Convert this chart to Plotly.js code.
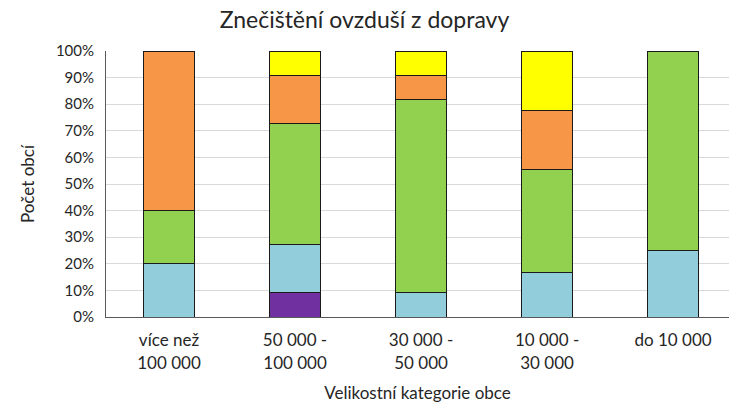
<!DOCTYPE html>
<html>
<head>
<meta charset="utf-8">
<script src="https://cdn.plot.ly/plotly-3.0.1.min.js"></script>
<style>
  html, body { margin: 0; padding: 0; background: white; }
  #chart { width: 729px; height: 407px; }
</style>
</head>
<body>
<div id="chart"></div>
<script>
// Kategorie obcí podle velikosti
const kategorie = ['více než<br>100 000', '50 000 -<br>100 000', '30 000 -<br>50 000', '10 000 -<br>30 000', 'do 10 000'];

// Podíly obcí (%) v jednotlivých úrovních
const fialova = [null, 9.1, null, null, null];
const modra = [20, 18.2, 9.1, 16.7, 25];
const zelena = [20, 45.4, 72.7, 38.9, 75];
const oranzova = [60, 18.2, 9.1, 22.2, null];
const zluta = [null, 9.1, 9.1, 22.2, null];

const serie = [
    { name: 'úroveň 1', y: fialova, color: '#7030A0' },
    { name: 'úroveň 2', y: modra, color: '#92CDDC' },
    { name: 'úroveň 3', y: zelena, color: '#92D050' },
    { name: 'úroveň 4', y: oranzova, color: '#F79646' },
    { name: 'úroveň 5', y: zluta, color: '#FFFF00' }
];

const data = serie.map(s => ({
    type: 'bar',
    x: kategorie,
    y: s.y,
    name: s.name,
    width: 0.4,
    marker: { color: s.color, line: { color: '#1a1a1a', width: 1 } },
    hoverinfo: 'none'
}));

const font = 'Lato, "Open Sans", sans-serif';

const layout = {
    width: 729,
    height: 407,
    barmode: 'stack',
    showlegend: false,
    paper_bgcolor: 'white',
    plot_bgcolor: 'white',
    margin: { l: 106, r: 0, t: 51, b: 90 },
    font: { family: font, color: '#404040' },
    title: {
        text: 'Znečištění ovzduší z dopravy',
        font: { family: font, size: 23, color: '#262626' },
        x: 0.5, xanchor: 'center',
        y: 0.95, yanchor: 'middle'
    },
    xaxis: {
        type: 'category',
        range: [-0.5, 4.444],
        showline: true,
        linecolor: '#595959',
        linewidth: 1,
        ticks: '',
        ticklabelstandoff: 8,
        tickfont: { family: font, size: 17, color: '#262626' },
        title: { text: 'Velikostní kategorie obce', font: { family: font, size: 17, color: '#262626' }, standoff: 15 }
    },
    yaxis: {
        range: [0, 100],
        dtick: 10,
        ticksuffix: '%',
        showline: true,
        linecolor: '#595959',
        linewidth: 1,
        gridcolor: '#d9d9d9',
        zeroline: false,
        ticks: '',
        ticklabelstandoff: 8,
        tickfont: { family: font, size: 15, color: '#262626' },
        title: { text: 'Počet obcí', font: { family: font, size: 17, color: '#262626' }, standoff: 16 }
    }
};

Plotly.newPlot('chart', data, layout, { displayModeBar: false, staticPlot: true });
</script>
</body>
</html>
